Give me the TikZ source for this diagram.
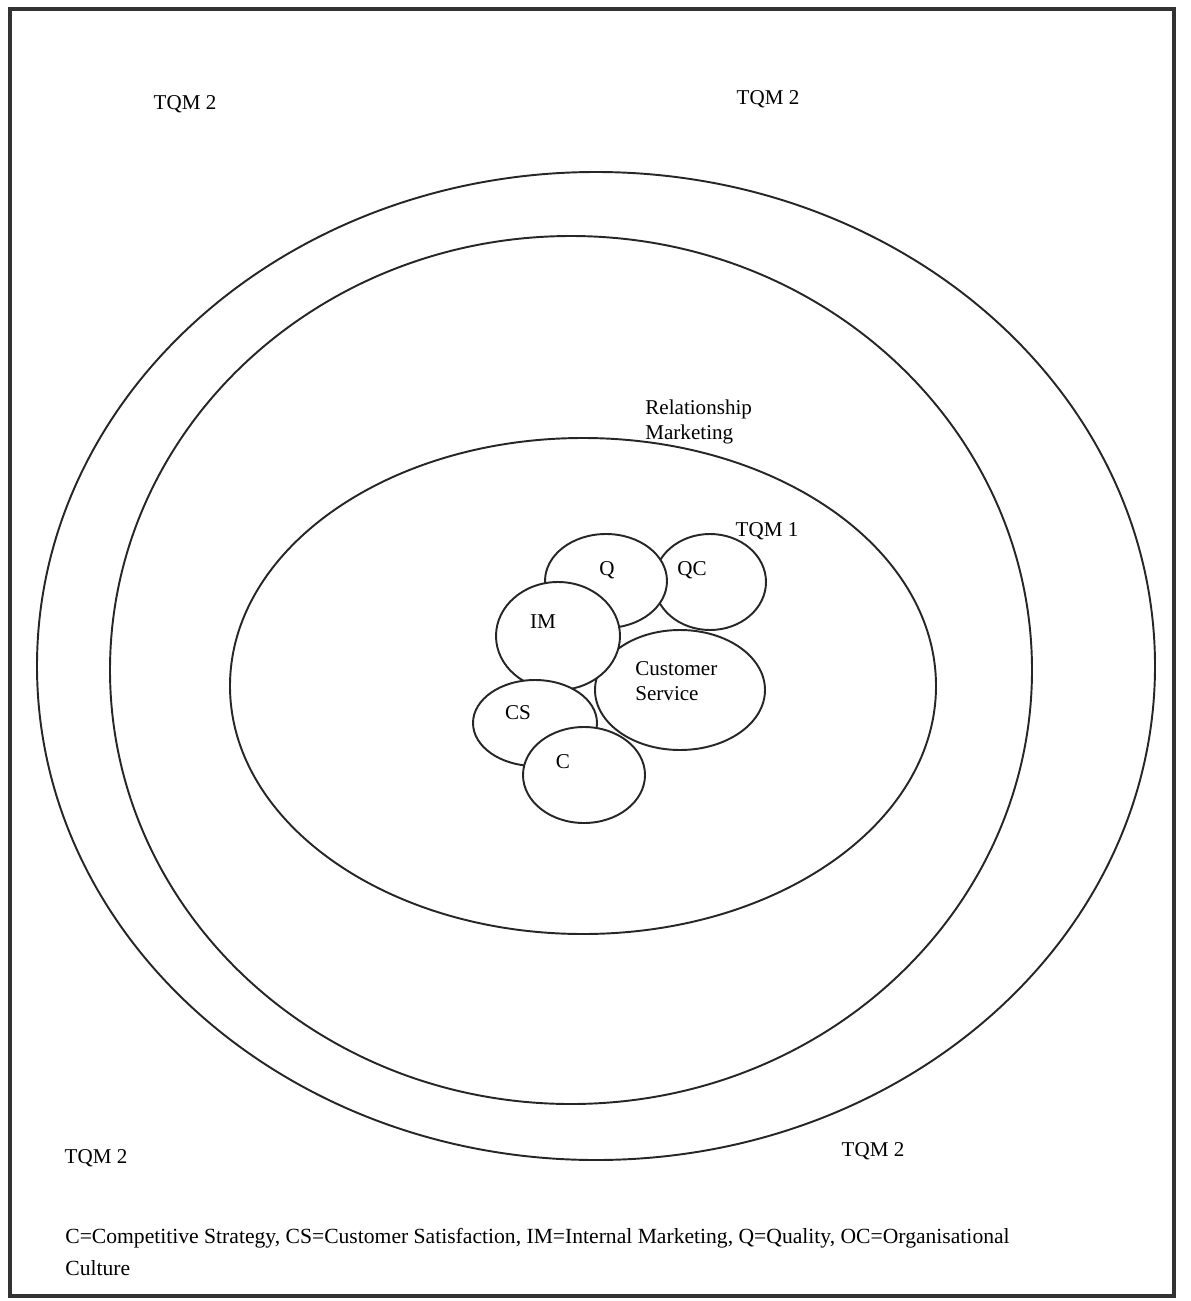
\documentclass[tikz,border=0pt]{standalone}
\usepackage{fontspec}
\setmainfont{Liberation Serif}
\usetikzlibrary{positioning}

\begin{document}
\begin{tikzpicture}[x=0.02cm, y=0.02cm, font=\fontsize{12}{14}\selectfont,
    ring/.style={line width=1.1pt, draw=black!85},
    bubble/.style={line width=1.1pt, draw=black!85, fill=white},
    tag/.style={inner sep=0pt}]
    \useasboundingbox (0,0) rectangle (1190,-1301);
    \draw[line width=2.4pt, draw=black!80] (10,-9) rectangle (1174,-1296);
    \draw[ring] (596,-666) ellipse [x radius=559, y radius=494];
    \draw[ring] (571,-670) ellipse [x radius=461, y radius=434];
    \draw[ring] (583,-686) ellipse [x radius=353, y radius=248];
    \draw[bubble] (710,-582) ellipse [x radius=56, y radius=48];
    \draw[bubble] (680,-690) ellipse [x radius=85, y radius=60];
    \draw[bubble] (606,-581) ellipse [x radius=61, y radius=47];
    \draw[bubble] (558,-636) ellipse [x radius=62, y radius=54];
    \draw[bubble] (535,-723) ellipse [x radius=62, y radius=43];
    \draw[bubble] (584,-775) ellipse [x radius=61, y radius=48];
    \node[tag] (q) at (607,-570) {Q};
    \node[tag] (qc) at (692,-570) {QC};
    \node[tag] (im) at (543,-622) {IM};
    \node[tag, align=left, anchor=west] (cserv) at (635,-681) {Customer\\Service};
    \node[tag] (cs) at (518,-713) {CS};
    \node[tag] (c) at (563,-762) {C};
    \node[tag] (tqm1) at (767,-531) {TQM 1};
    \node[tag, align=left, anchor=west] (rm) at (645,-422) {Relationship\\Marketing};
    \node[tag] (tqmA) at (185,-104) {TQM 2};
    \node[tag] (tqmB) at (768,-99) {TQM 2};
    \node[tag] (tqmC) at (96,-1158) {TQM 2};
    \node[tag] (tqmD) at (873,-1151) {TQM 2};
    \node[tag, align=left, anchor=north west,
        font=\fontsize{12.3}{18}\selectfont] (key) at (65,-1228)
        {C=Competitive Strategy, CS=Customer Satisfaction, IM=Internal Marketing, Q=Quality, OC=Organisational\\Culture};
\end{tikzpicture}
\end{document}
